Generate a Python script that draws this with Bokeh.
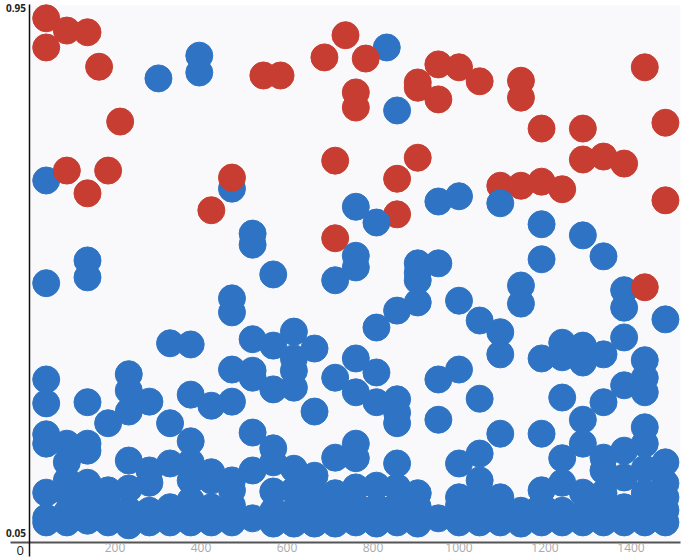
from bokeh.plotting import figure
from bokeh.embed import file_html
from bokeh.resources import INLINE
from bokeh.models import Range1d, BoxAnnotation, Label, FixedTicker, LinearAxis

x_ticks = [200, 400, 600, 800, 1000, 1200, 1400]
y_ticks = [0.05, 0.95]
y_tick_labels = {0.05: "0.05", 0.95: "0.95"}

red_x = [40, 88, 136, 40, 163, 212, 88, 184, 136, 472, 424, 545, 585, 687, 712, 712, 736, 783, 760, 760,
         904, 904, 952, 1000, 1048, 952, 1144, 1144, 1192, 1288, 1432, 1480, 904, 856, 856, 1288, 1336,
         1384, 1096, 1144, 1192, 1240, 1480, 1432]
red_y = [.933, .912, .909, .883, .850, .756, .672, .672, .633, .660, .604, .835, .835, .866, .689, .556,
         .904, .864, .806, .780, .823, .814, .854, .849, .825, .794, .826, .797, .744, .744, .849, .754,
         .694, .658, .597, .691, .696, .684, .646, .646, .653, .640, .621, .472]

blue_columns = [40, 88, 136, 184, 232, 280, 301, 328, 376, 396, 424, 472, 520, 568, 616, 664, 712, 760, 808,
                832, 856, 904, 952, 1000, 1048, 1096, 1144, 1192, 1240, 1288, 1336, 1384, 1432, 1480]
blue_values = [
    [.655, .479, .314, .273, .220, .204, .120, .077, .069],
    [.204, .172, .141, .119, .086, .069],
    [.518, .489, .275, .204, .192, .137, .115, .098, .072],
    [.239, .124, .098, .069],
    [.323, .295, .259, .175, .127, .089, .064],
    [.276, .158, .137, .089, .069],
    [.830],
    [.376, .239, .170, .095, .069],
    [.374, .288, .208, .172, .141, .107, .069],
    [.869, .840],
    [.269, .155, .141, .095, .069],
    [.641, .453, .429, .331, .276, .141, .124, .098, .069],
    [.564, .545, .383, .329, .317, .223, .158, .076],
    [.494, .372, .297, .196, .172, .122, .089, .067],
    [.396, .350, .329, .300, .161, .124, .089, .067],
    [.367, .259, .149, .119, .084, .067],
    [.484, .317, .180, .119, .098, .067],
    [.610, .526, .506, .350, .292, .204, .179, .129, .098, .069],
    [.403, .326, .275, .132, .095, .067],
    [.883],
    [.775, .432, .280, .257, .239, .170, .129, .098, .069],
    [.513, .497, .484, .446, .119, .095, .067],
    [.619, .513, .314, .245, .076],
    [.628, .449, .331, .170, .112, .098, .069],
    [.415, .281, .187, .141, .119, .098, .069],
    [.395, .357, .221, .112, .084, .069],
    [.475, .444, .089, .067],
    [.580, .520, .350, .221, .124, .098, .069],
    [.377, .352, .283, .179, .137, .089, .069],
    [.561, .372, .343, .245, .204, .120, .084, .069],
    [.525, .357, .275, .180, .158, .119, .098, .069],
    [.467, .437, .386, .304, .192, .146, .095, .069],
    [.347, .317, .292, .232, .204, .161, .119, .098, .069],
    [.417, .172, .136, .112, .090, .069],
]
# two blue points that sit in front of the red ones
blue_top_x = [808, 1096]
blue_top_y = [.583, .616]

BLUE = "#2f74c4"
RED = "#c73d31"

p = figure(frame_width=681, frame_height=558, output_backend="svg", toolbar_location=None,
           x_range=Range1d(-66.3, 1517.4), y_range=Range1d(.00715, .9635),
           x_axis_type=None, y_axis_type=None,
           min_border_left=0, min_border_right=0, min_border_top=0, min_border_bottom=0)
p.styles = {"position": "absolute", "left": "0px", "top": "0px"}
p.outline_line_color = None
p.background_fill_color = "#ffffff"
p.border_fill_color = "#ffffff"
p.grid.visible = False

p.add_layout(BoxAnnotation(left=1.2, right=1515, top=.955, bottom=.0346, fill_color="#f9f9fc", fill_alpha=1,
                           line_color=None, level="underlay"))

xaxis = LinearAxis(ticker=FixedTicker(ticks=x_ticks), fixed_location=.0346, bounds=(-43, 1515))
xaxis.major_tick_line_color = None
xaxis.minor_tick_line_color = None
xaxis.major_tick_out = 0
xaxis.major_tick_in = 0
xaxis.axis_line_color = "#555555"
xaxis.axis_line_width = 2
xaxis.major_label_text_color = "#aaaaaa"
xaxis.major_label_text_font = "Open Sans"
xaxis.major_label_text_font_size = "12px"
xaxis.major_label_standoff = 1
p.add_layout(xaxis, "below")

yaxis = LinearAxis(ticker=FixedTicker(ticks=y_ticks), fixed_location=0, bounds=(.0106, .957),
                   major_label_overrides=y_tick_labels)
yaxis.major_tick_line_color = None
yaxis.minor_tick_line_color = None
yaxis.major_tick_out = 0
yaxis.major_tick_in = 0
yaxis.axis_line_color = "#111111"
yaxis.axis_line_width = 1.5
yaxis.major_label_text_color = "#222222"
yaxis.major_label_text_font = "Open Sans"
yaxis.major_label_text_font_style = "bold"
yaxis.major_label_text_font_size = "10px"
yaxis.major_label_standoff = 3
p.add_layout(yaxis, "left")

blue_x = [c for c, vals in zip(blue_columns, blue_values) for _ in vals]
blue_y = [v for vals in blue_values for v in vals]

p.scatter(blue_x, blue_y, size=27, fill_color=BLUE, line_color=BLUE, line_width=1)
p.scatter(red_x, red_y, size=27, fill_color=RED, line_color=RED, line_width=1)
p.scatter(blue_top_x, blue_top_y, size=27, fill_color=BLUE, line_color=BLUE, line_width=1)

p.add_layout(Label(x=-29, y=.0139, text="0", text_font="Open Sans", text_font_size="13px", text_color="#222222"))

open("out.html", "w").write(file_html(p, INLINE))
